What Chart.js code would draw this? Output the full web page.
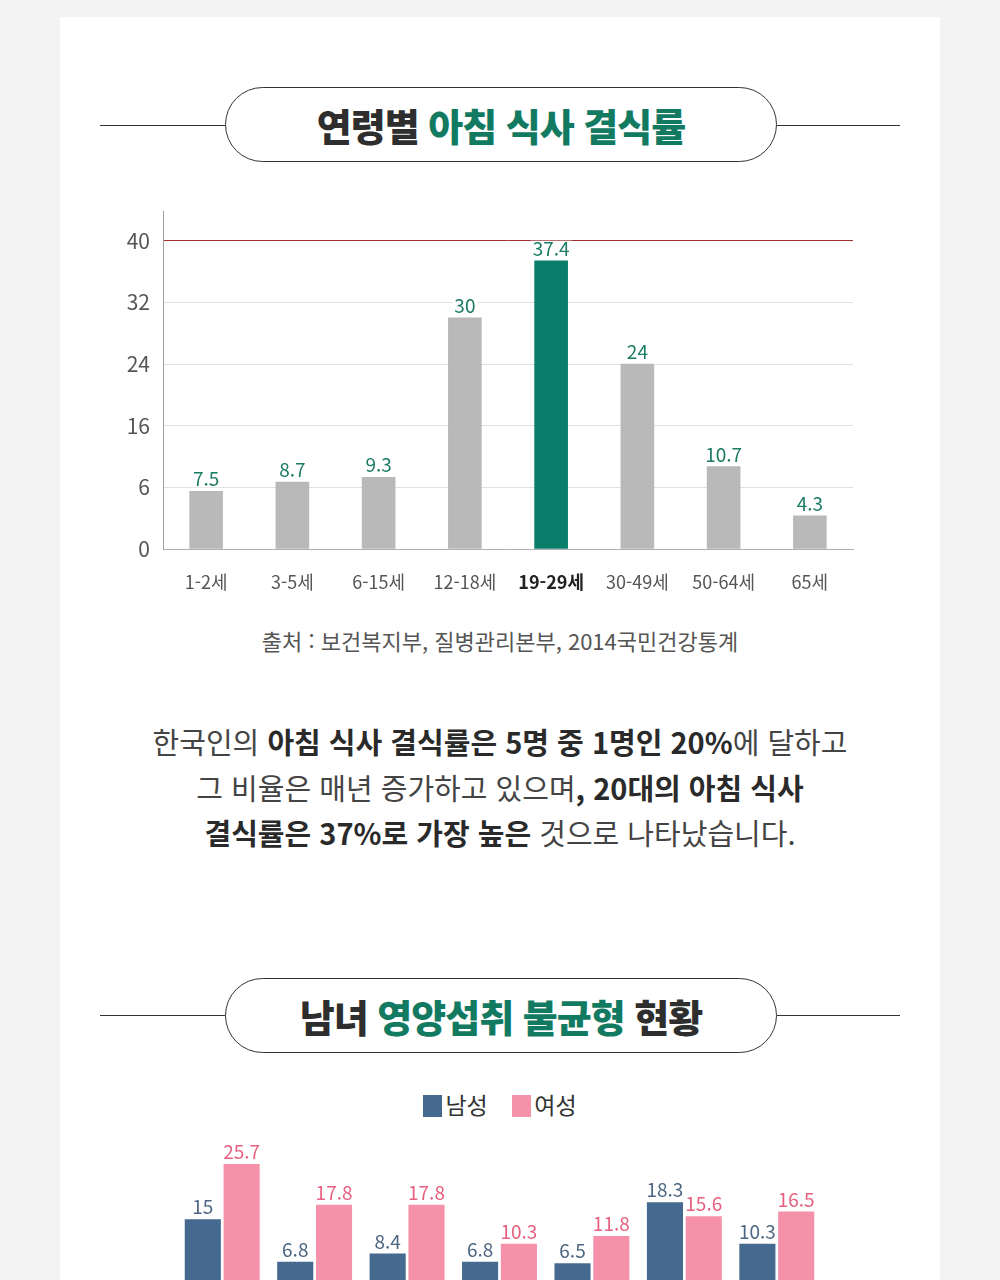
<!DOCTYPE html>
<html lang="ko">
<head>
<meta charset="utf-8">
<script src="https://cdn.jsdelivr.net/npm/chart.js@4.4.1/dist/chart.umd.min.js"></script>
<style>
  html, body { margin: 0; padding: 0; }
  body {
    width: 1000px; height: 1280px; overflow: hidden; position: relative;
    background: #f3f3f3;
    font-family: "Noto Sans CJK KR", "Noto Sans", sans-serif;
    color: #333;
  }
  .card { position: absolute; left: 60px; top: 17px; width: 880px; height: 1300px; background: #fff; }
  .hline { position: absolute; height: 1px; background: #333; }
  .pill {
    position: absolute; left: 225px; width: 552px; height: 75px; box-sizing: border-box;
    border: 1px solid #333; border-radius: 38px; background: #fff;
    display: flex; align-items: center; justify-content: center;
    font-size: 38px; font-weight: 900; letter-spacing: -1px; line-height: 1; color: #2e2e2e;
  }
  .pill .g { color: #137a62; }
  .chartbox { position: absolute; }
  .source {
    position: absolute; left: 0; width: 1000px; top: 625px; text-align: center;
    font-size: 22px; line-height: 30px; color: #555; letter-spacing: 0;
  }
  .desc {
    position: absolute; left: 0; width: 1000px; top: 719px; text-align: center;
    font-size: 29px; line-height: 45.5px; color: #444; letter-spacing: 0;
  }
  .desc b { color: #2a2a2a; font-weight: 700; }
  .legend {
    position: absolute; left: 0; width: 1000px; top: 1090px; text-align: center;
    font-size: 23px; line-height: 28px; color: #333;
  }
  .legend span.sw { display: inline-block; width: 19px; height: 22px; vertical-align: -3px; margin-right: 3px; }
  .legend span.item { margin: 0 9px; }
</style>
</head>
<body>
<div class="card"></div>

<div class="hline" style="left:100px; width:125px; top:125px;"></div>
<div class="hline" style="left:777px; width:123px; top:125px;"></div>
<div class="pill" style="top:87px;">연령별&nbsp;<span class="g">아침 식사 결식률</span></div>

<div class="chartbox" style="left:100px; top:186px; width:780px; height:424px;">
  <canvas id="ageChart"></canvas>
</div>

<div class="source">출처 : 보건복지부, 질병관리본부, 2014국민건강통계</div>

<div class="desc">
  한국인의 <b>아침 식사 결식률은 5명 중 1명인 20%</b>에 달하고<br>
  그 비율은 매년 증가하고 있으며<b>, 20대의 아침 식사</b><br>
  <b>결식률은 37%로 가장 높은</b> 것으로 나타났습니다.
</div>

<div class="hline" style="left:100px; width:125px; top:1015px;"></div>
<div class="hline" style="left:777px; width:123px; top:1015px;"></div>
<div class="pill" style="top:978px;">남녀&nbsp;<span class="g">영양섭취 불균형</span>&nbsp;현황</div>

<div class="legend">
  <span class="item"><span class="sw" style="background:#466a8f"></span>남성</span>
  <span class="item"><span class="sw" style="background:#f592aa"></span>여성</span>
</div>

<div class="chartbox" style="left:100px; top:1100px; width:800px; height:220px;">
  <canvas id="genderChart"></canvas>
</div>

<script>
// 연령별 아침 식사 결식률 (%)
const ageLabels = ['1-2세', '3-5세', '6-15세', '12-18세', '19-29세', '30-49세', '50-64세', '65세'];
const skipRates = [7.5, 8.7, 9.3, 30, 37.4, 24, 10.7, 4.3];
const yTickValues = [0, 8, 16, 24, 32, 40];
const yTickLabels = ['0', '6', '16', '24', '32', '40'];
const highlightAge = '19-29세';

// 남녀 영양섭취 불균형 (항목명은 그림에서 잘려 보이지 않음)
const groupLabels = ['항목1', '항목2', '항목3', '항목4', '항목5', '항목6', '항목7'];
const maleValues = [15, 6.8, 8.4, 6.8, 6.5, 18.3, 10.3];
const femaleValues = [25.7, 17.8, 17.8, 10.3, 11.8, 15.6, 16.5];

Chart.defaults.font.family = "'Noto Sans CJK KR', 'Noto Sans', sans-serif";

// 막대 위 값 표시
const valueLabels = {
    id: 'valueLabels',
    afterDatasetsDraw(chart, args, opts) {
        const ctx = chart.ctx;
        chart.data.datasets.forEach((ds, i) => {
            const meta = chart.getDatasetMeta(i);
            ctx.save();
            ctx.font = opts.size + 'px ' + Chart.defaults.font.family;
            ctx.textAlign = 'center';
            ctx.textBaseline = 'alphabetic';
            meta.data.forEach((bar, j) => {
                const text = String(ds.data[j]);
                const w = ctx.measureText(text).width;
                const y = bar.y - opts.offset;
                if (opts.background) {
                    ctx.fillStyle = opts.background;
                    ctx.fillRect(bar.x - w / 2 - 2, y - opts.size * 0.8, w + 4, opts.size * 0.8 + 1);
                }
                ctx.fillStyle = ds.labelColor;
                ctx.fillText(text, bar.x, y);
            });
            ctx.restore();
        });
    }
};

new Chart(document.getElementById('ageChart'), {
    type: 'bar',
    data: {
        labels: ageLabels,
        datasets: [{
            data: skipRates,
            backgroundColor: ageLabels.map(l => l === highlightAge ? '#0b7d6b' : '#b9b9b9'),
            barThickness: 33,
            labelColor: '#1b7a62'
        }]
    },
    options: {
        animation: false,
        responsive: true,
        maintainAspectRatio: false,
        layout: { padding: { top: 0, right: 27, left: 0, bottom: 0 } },
        plugins: {
            legend: { display: false },
            tooltip: { enabled: false },
            valueLabels: { size: 19, offset: 5, background: '#fff' }
        },
        scales: {
            x: {
                afterFit: s => { s.height = 61; },
                grid: { display: false },
                border: { color: '#b0b0b0' },
                ticks: {
                    padding: 14,
                    color: c => ageLabels[c.index] === highlightAge ? '#222' : '#555',
                    font: c => ({ size: 18, weight: ageLabels[c.index] === highlightAge ? 'bold' : 'normal' })
                }
            },
            y: {
                min: 0,
                max: 43.8,
                afterBuildTicks: s => { s.ticks = yTickValues.map(v => ({ value: v })); },
                afterFit: s => { s.width = 63; },
                border: { color: '#a0a0a0' },
                grid: {
                    drawTicks: false,
                    color: c => (c.tick && c.tick.value === 40) ? '#a03030' : '#e0e0e0'
                },
                ticks: {
                    padding: 13,
                    color: '#555',
                    font: { size: 21 },
                    callback: v => yTickLabels[yTickValues.indexOf(v)]
                }
            }
        }
    },
    plugins: [valueLabels]
});

new Chart(document.getElementById('genderChart'), {
    type: 'bar',
    data: {
        labels: groupLabels,
        datasets: [{
            label: '남성',
            data: maleValues,
            backgroundColor: '#466a8f',
            labelColor: '#4d6782',
            categoryPercentage: 0.84,
            barPercentage: 0.93
        }, {
            label: '여성',
            data: femaleValues,
            backgroundColor: '#f592aa',
            labelColor: '#e6607f',
            categoryPercentage: 0.84,
            barPercentage: 0.93
        }]
    },
    options: {
        animation: false,
        responsive: true,
        maintainAspectRatio: false,
        layout: { padding: { left: 76, right: 77, top: 21, bottom: 23 } },
        plugins: {
            legend: { display: false },
            tooltip: { enabled: false },
            valueLabels: { size: 19, offset: 5 }
        },
        scales: {
            x: { display: false },
            y: { display: false, min: 0, max: 34 }
        }
    },
    plugins: [valueLabels]
});
</script>
</body>
</html>
